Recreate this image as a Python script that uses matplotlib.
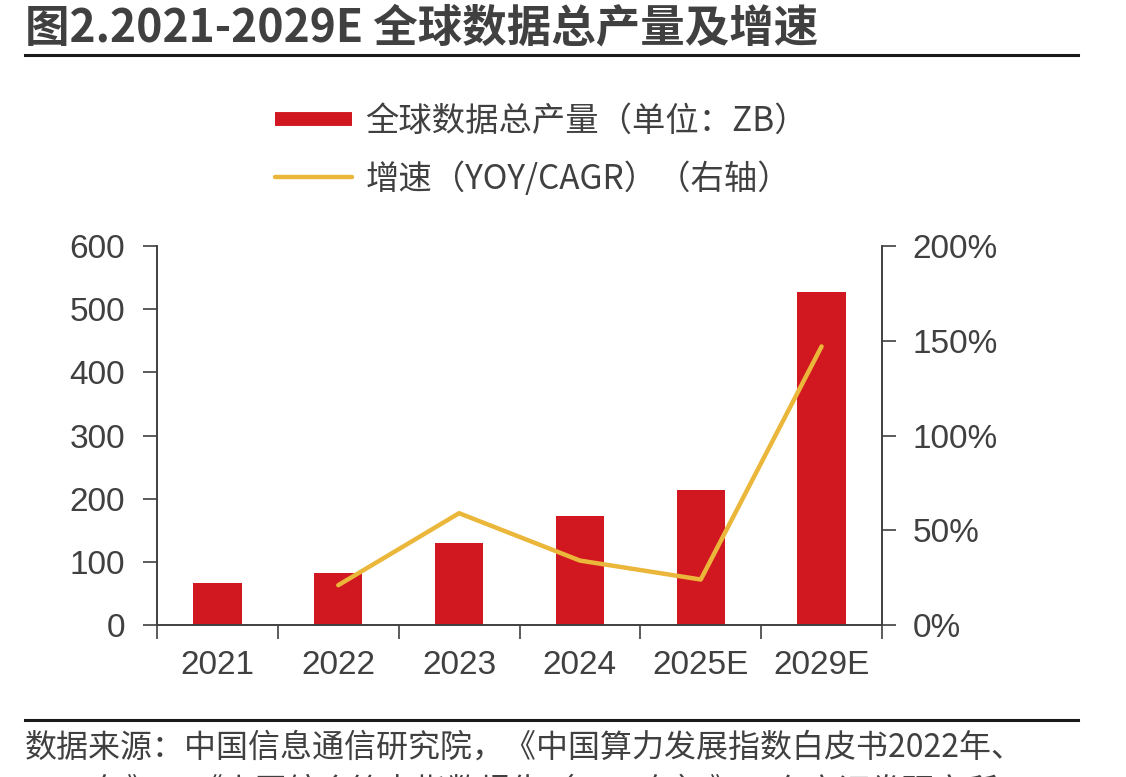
import matplotlib.pyplot as plt
from matplotlib.lines import Line2D
from matplotlib.ticker import FuncFormatter

plt.rcParams['font.family'] = ['Liberation Sans', 'Noto Sans CJK SC', 'DejaVu Sans']

# data
years = ['2021', '2022', '2023', '2024', '2025E', '2029E']
volume_zb = [67, 82, 130, 173, 213, 527]
growth_years = ['2022', '2023', '2024', '2025E', '2029E']
growth_pct = [21, 59, 34, 24, 147]

RED = '#D1171F'
YELLOW = '#EBB73A'
GREY = '#404040'
CJK = ['Noto Sans CJK SC', 'DejaVu Sans']

fig = plt.figure(figsize=(11.26, 7.77), dpi=100)
ax = fig.add_axes([157 / 1126, 152 / 777, 725 / 1126, 379 / 777])
ax2 = ax.twinx()

x = list(range(len(years)))
ax.bar(x, volume_zb, width=0.4, color=RED, zorder=2)
gx = [years.index(y) for y in growth_years]
ax2.plot(gx, growth_pct, color=YELLOW, lw=3.2, solid_capstyle='round', zorder=3)

ax.set_xlim(-0.5, len(years) - 0.5)
ax.set_ylim(0, 600)
ax.set_yticks(range(0, 601, 100))
ax2.set_ylim(0, 200)
ax2.set_yticks(range(0, 201, 50))
ax2.yaxis.set_major_formatter(FuncFormatter(lambda v, p: f'{v:.0f}%'))

# category labels between boundary ticks
ax.set_xticks([i - 0.5 for i in range(len(years) + 1)])
ax.set_xticklabels([])
ax.set_xticks(x, minor=True)
ax.set_xticklabels(years, minor=True)
ax.tick_params(axis='x', which='minor', length=0, pad=18, labelsize=24, labelcolor=GREY)
ax.tick_params(axis='x', which='major', length=10, width=1.2, color=GREY, direction='out')
ax.tick_params(axis='y', length=10, width=1.2, color=GREY, direction='out', pad=13,
               labelsize=24, labelcolor=GREY)
ax2.tick_params(axis='y', length=10, width=1.2, color=GREY, direction='out', pad=12,
                labelsize=24, labelcolor=GREY)

for a in (ax, ax2):
    a.spines['top'].set_visible(False)
    for s in ('left', 'right', 'bottom'):
        a.spines[s].set_color(GREY)
        a.spines[s].set_linewidth(1.2)

# legend
handles = [Line2D([], [], color=RED, lw=10, solid_capstyle='butt'),
           Line2D([], [], color=YELLOW, lw=3.2, solid_capstyle='round')]
labels = ['全球数据总产量（单位：ZB）', '增速（YOY/CAGR）（右轴）']
leg = fig.legend(handles, labels, loc='upper left', bbox_to_anchor=(275 / 1126, 1 - 104 / 777),
                 frameon=False, handlelength=2.3, handletextpad=0.42, labelspacing=0.68,
                 borderpad=0, borderaxespad=0, prop={'family': CJK, 'size': 24})
for t in leg.get_texts():
    t.set_color(GREY)

# title, rules and source note
fig.text(25 / 1126, 1 - 28 / 777, '图2.2021-2029E 全球数据总产量及增速', family=CJK,
         fontsize=32, fontweight='bold', color=GREY, va='center', ha='left')
fig.add_artist(Line2D([25 / 1126, 1078 / 1126], [1 - 55 / 777, 1 - 55 / 777],
                      color='#1a1a1a', lw=2.2))
fig.add_artist(Line2D([25 / 1126, 1078 / 1126], [1 - 720 / 777, 1 - 720 / 777],
                      color='#1a1a1a', lw=2.2))
fig.text(25 / 1126, 1 - 748 / 777, '数据来源：中国信息通信研究院，《中国算力发展指数白皮书2022年、',
         family=CJK, fontsize=23, color=GREY, va='center', ha='left')
fig.text(25 / 1126, 1 - 792 / 777, '2023年》、《中国综合算力指数报告（2024年）》、东方证券研究所',
         family=CJK, fontsize=23, color=GREY, va='center', ha='left')

fig.savefig('out.png', dpi=100)
